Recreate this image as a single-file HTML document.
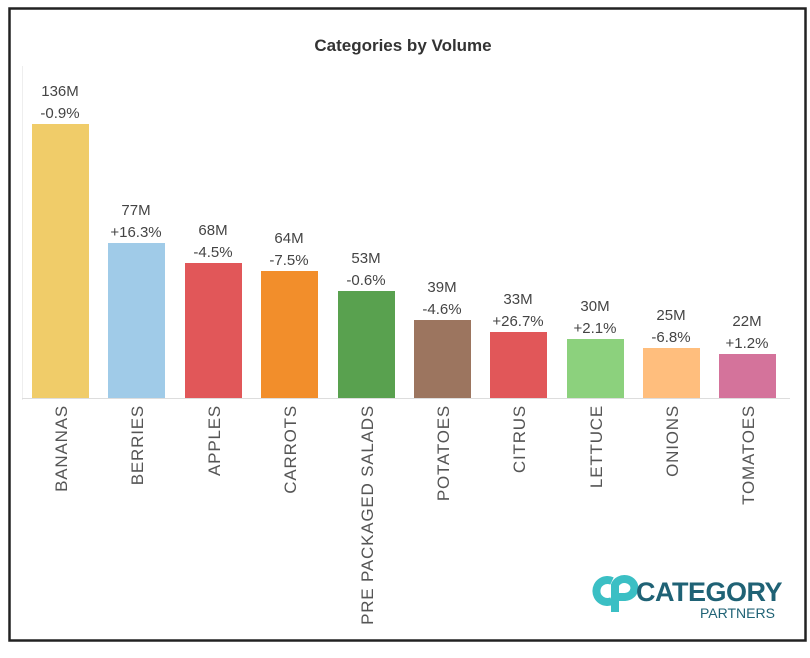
<!DOCTYPE html>
<html><head><meta charset="utf-8"><style>
body{margin:0;background:#fff;width:810px;height:653px;overflow:hidden;font-family:"Liberation Sans",sans-serif}
</style></head><body>
<svg width="810" height="653" xmlns="http://www.w3.org/2000/svg" font-family="Liberation Sans, sans-serif">
<rect x="9.5" y="8.5" width="796" height="632" fill="#fff" stroke="#222" stroke-width="2.5"/>
<line x1="22.5" y1="66" x2="22.5" y2="400" stroke="#eee"/>
<text x="403" y="51" text-anchor="middle" font-size="17" font-weight="bold" fill="#333">Categories by Volume</text>
<g font-size="15" fill="#444" text-anchor="middle">
<rect x="32" y="124" width="57" height="274" fill="#f0cc69"/><text x="60" y="96">136M</text><text x="60" y="118">-0.9%</text>
<rect x="108" y="243" width="57" height="155" fill="#a0cbe8"/><text x="136" y="215">77M</text><text x="136" y="237">+16.3%</text>
<rect x="185" y="263" width="57" height="135" fill="#e15759"/><text x="213" y="235">68M</text><text x="213" y="257">-4.5%</text>
<rect x="261" y="271" width="57" height="127" fill="#f28e2b"/><text x="289" y="243">64M</text><text x="289" y="265">-7.5%</text>
<rect x="338" y="291" width="57" height="107" fill="#59a14f"/><text x="366" y="263">53M</text><text x="366" y="285">-0.6%</text>
<rect x="414" y="320" width="57" height="78" fill="#9c755f"/><text x="442" y="292">39M</text><text x="442" y="314">-4.6%</text>
<rect x="490" y="332" width="57" height="66" fill="#e15759"/><text x="518" y="304">33M</text><text x="518" y="326">+26.7%</text>
<rect x="567" y="339" width="57" height="59" fill="#8cd17d"/><text x="595" y="311">30M</text><text x="595" y="333">+2.1%</text>
<rect x="643" y="348" width="57" height="50" fill="#ffbe7d"/><text x="671" y="320">25M</text><text x="671" y="342">-6.8%</text>
<rect x="719" y="354" width="57" height="44" fill="#d4739b"/><text x="747" y="326">22M</text><text x="747" y="348">+1.2%</text>
</g>
<line x1="22" y1="398.5" x2="790" y2="398.5" stroke="#ddd"/>
<g font-size="17" fill="#555" text-anchor="end" letter-spacing="0.8">
<text transform="translate(67,405) rotate(-90)">BANANAS</text>
<text transform="translate(143,405) rotate(-90)">BERRIES</text>
<text transform="translate(220,405) rotate(-90)">APPLES</text>
<text transform="translate(296,405) rotate(-90)">CARROTS</text>
<text transform="translate(373,405) rotate(-90)">PRE PACKAGED SALADS</text>
<text transform="translate(449,405) rotate(-90)">POTATOES</text>
<text transform="translate(525,405) rotate(-90)">CITRUS</text>
<text transform="translate(602,405) rotate(-90)">LETTUCE</text>
<text transform="translate(678,405) rotate(-90)">ONIONS</text>
<text transform="translate(754,405) rotate(-90)">TOMATOES</text>
</g>
<g>
<path d="M612 581 A11 11 0 1 0 612 601" fill="none" stroke="#3bbfc4" stroke-width="8"/>
<path d="M615 612 L615 585 A10 9 0 1 1 625 597 L619 597" fill="none" stroke="#3bbfc4" stroke-width="8"/>
<text x="636" y="601" font-size="27" font-weight="bold" fill="#1f6275" letter-spacing="-0.5">CATEGORY</text>
<text x="700" y="618" font-size="14" fill="#1f6275">PARTNERS</text>
</g>
</svg>
</body></html>
